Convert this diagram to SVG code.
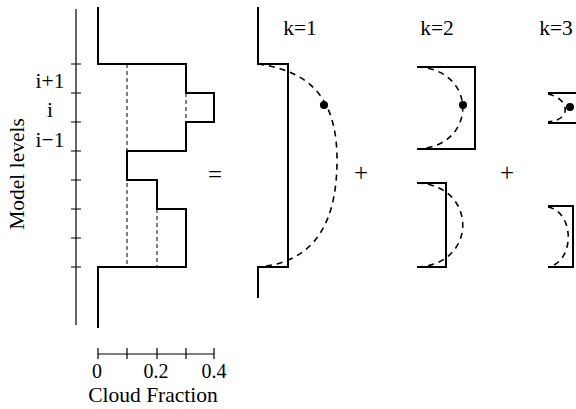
<svg xmlns="http://www.w3.org/2000/svg" width="576" height="409" viewBox="0 0 576 409">
<style>
text{font-family:'Liberation Serif','DejaVu Serif',serif;font-size:21.5px;fill:#000}
.m{text-anchor:middle}
.op{font-size:25px}
.num{font-size:20px}
.ax{stroke:#000;stroke-width:1.2;fill:none}
.thick{stroke:#000;stroke-width:2;fill:none;stroke-linejoin:miter}
.dl{stroke:#000;stroke-width:1;stroke-dasharray:4,3;fill:none}
.dc{stroke:#000;stroke-width:1.6;stroke-dasharray:6,5;fill:none}
</style>
<rect width="576" height="409" fill="#fff"/>
<g id="level-axis">
<path class="ax" d="M76,9V325M71,64H81M71,93H81M71,122H81M71,151H81M71,180H81M71,209H81M71,238H81M71,267H81"/>
<text class="m" x="50" y="88" font-family="Liberation Serif, serif">i+1</text>
<text class="m" x="50" y="117" font-family="Liberation Serif, serif">i</text>
<text class="m" x="50" y="147" font-family="Liberation Serif, serif">i−1</text>
<text class="m" transform="translate(24,174) rotate(-90)" font-family="Liberation Serif, serif">Model levels</text>
</g>
<g id="fraction-axis">
<path class="ax" d="M98,354H214M98,348V359M127,348V359M157,348V359M186,348V359M214,348V359"/>
<text class="m num" x="97" y="378" font-family="Liberation Serif, serif">0</text>
<text class="m num" x="156" y="378" font-family="Liberation Serif, serif">0.2</text>
<text class="m num" x="214" y="378" font-family="Liberation Serif, serif">0.4</text>
<text class="m" x="153" y="402" font-family="Liberation Serif, serif">Cloud Fraction</text>
</g>
<g id="profile">
<path class="thick" d="M98,7V64H186V93H214V122H186V151H127V180H157V209H186V267H98V328"/>
<path class="dl" d="M127,64V267M186,93V122M157,209V267"/>
</g>
<text id="equals" class="m op" x="215" y="183" font-family="Liberation Serif, serif">=</text>
<g id="k1">
<text class="m" x="300" y="35" font-family="Liberation Serif, serif">k=1</text>
<path class="thick" d="M258,7V64H288V267H258V298"/>
<path class="dc" d="M258,64C320,72 337,110 337,160C337,215 320,262 258,267"/>
<circle cx="324" cy="105" r="4"/>
</g>
<text id="plus1" class="m op" x="361" y="181" font-family="Liberation Serif, serif">+</text>
<g id="k2">
<text class="m" x="437" y="35" font-family="Liberation Serif, serif">k=2</text>
<path class="thick" d="M417,67H475V149H417"/>
<path class="dc" d="M417,67C478,69 478,147 417,149"/>
<circle cx="463" cy="105" r="4"/>
<path class="thick" d="M417,183H446V267H417"/>
<path class="dc" d="M417,183C478,185 478,265 417,267"/>
</g>
<text id="plus2" class="m op" x="507" y="181" font-family="Liberation Serif, serif">+</text>
<g id="k3">
<text class="m" x="556" y="35" font-family="Liberation Serif, serif">k=3</text>
<path class="thick" d="M548,93H578M548,123H578"/>
<path class="dc" d="M548,94C570,99 572,120 548,122"/>
<circle cx="570" cy="107" r="4"/>
<path class="thick" d="M548,206H573V267H548"/>
<path class="dc" d="M548,207C575,212 575,262 548,267"/>
</g>
</svg>
